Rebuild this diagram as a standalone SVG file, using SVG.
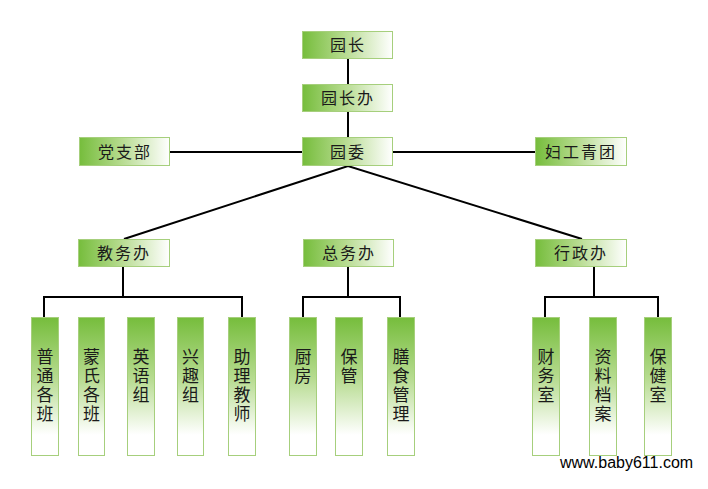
<svg xmlns="http://www.w3.org/2000/svg" width="708" height="489" viewBox="0 0 708 489">
<defs>
<linearGradient id="gh" x1="0" y1="0" x2="1" y2="0">
<stop offset="0" stop-color="#76bd3c"/>
<stop offset="0.45" stop-color="#b4da8c"/>
<stop offset="1" stop-color="#ffffff"/>
</linearGradient>
<linearGradient id="gv" x1="0" y1="0" x2="0" y2="1">
<stop offset="0" stop-color="#76bd3c"/>
<stop offset="0.45" stop-color="#b8dc92"/>
<stop offset="0.85" stop-color="#ffffff"/>
<stop offset="1" stop-color="#ffffff"/>
</linearGradient>
<style>
.h{fill:url(#gh);stroke:#a6cf7c;stroke-width:1}
.v{fill:url(#gv);stroke:#a6cf7c;stroke-width:1}
.t{font-family:"Noto Sans CJK SC","Noto Sans",sans-serif;font-size:16px;fill:#1a1a1a;text-anchor:middle;letter-spacing:2px}
.c{font-family:"Noto Sans CJK SC","Noto Sans",sans-serif;font-size:17px;fill:#1a1a1a;writing-mode:vertical-rl;text-orientation:upright;letter-spacing:2px}
.l{stroke:#000;stroke-width:2;fill:none}
</style>
</defs>
<rect width="708" height="489" fill="#fff"/>
<g id="connectors">
<line class="l" x1="348" y1="58" x2="348" y2="84"/>
<line class="l" x1="348" y1="111" x2="348" y2="137"/>
<line class="l" x1="170" y1="152" x2="302" y2="152"/>
<line class="l" x1="393" y1="152" x2="535" y2="152"/>
<polyline class="l" points="124,239 348,166 582,239"/>
<polyline class="l" points="123,266 123,297"/>
<polyline class="l" points="44,317 44,297 242,297 242,317"/>
<line class="l" x1="348" y1="266" x2="348" y2="297"/>
<polyline class="l" points="303,317 303,297 400,297 400,317"/>
<line class="l" x1="594" y1="266" x2="594" y2="297"/>
<polyline class="l" points="545,317 545,297 658,297 658,317"/>
</g>
<g id="n-yuanzhang"><rect class="h" x="302.5" y="31.5" width="90" height="27"/><text class="t" x="348" y="51">园长</text></g>
<g id="n-yuanzhangban"><rect class="h" x="302.5" y="84.5" width="90" height="27"/><text class="t" x="348" y="104">园长办</text></g>
<g id="n-yuanwei"><rect class="h" x="302.5" y="137.5" width="90" height="28"/><text class="t" x="348" y="158">园委</text></g>
<g id="n-dangzhibu"><rect class="h" x="79.5" y="137.5" width="90" height="28"/><text class="t" x="125" y="158">党支部</text></g>
<g id="n-fugong"><rect class="h" x="535.5" y="137.5" width="91" height="28"/><text class="t" x="581" y="158">妇工青团</text></g>
<g id="n-jiaowuban"><rect class="h" x="78.5" y="239.5" width="91" height="27"/><text class="t" x="124" y="259">教务办</text></g>
<g id="n-zongwuban"><rect class="h" x="303.5" y="239.5" width="90" height="27"/><text class="t" x="349" y="259">总务办</text></g>
<g id="n-xingzhengban"><rect class="h" x="535.5" y="239.5" width="91" height="27"/><text class="t" x="581" y="259">行政办</text></g>
<g id="n-putong"><rect class="v" x="31.5" y="317.5" width="27" height="138"/><text class="c" x="45" y="348">普通各班</text></g>
<g id="n-mengshi"><rect class="v" x="78.5" y="317.5" width="26" height="138"/><text class="c" x="91.5" y="348">蒙氏各班</text></g>
<g id="n-yingyu"><rect class="v" x="127.5" y="317.5" width="27" height="138"/><text class="c" x="141" y="348">英语组</text></g>
<g id="n-xingqu"><rect class="v" x="177.5" y="317.5" width="26" height="138"/><text class="c" x="190.5" y="348">兴趣组</text></g>
<g id="n-zhuli"><rect class="v" x="228.5" y="317.5" width="27" height="138"/><text class="c" x="242" y="348">助理教师</text></g>
<g id="n-chufang"><rect class="v" x="289.5" y="317.5" width="27" height="138"/><text class="c" x="303" y="348">厨房</text></g>
<g id="n-baoguan"><rect class="v" x="335.5" y="317.5" width="27" height="138"/><text class="c" x="349" y="348">保管</text></g>
<g id="n-shanshi"><rect class="v" x="387.5" y="317.5" width="27" height="138"/><text class="c" x="401" y="348">膳食管理</text></g>
<g id="n-caiwu"><rect class="v" x="532.5" y="317.5" width="27" height="138"/><text class="c" x="546" y="348">财务室</text></g>
<g id="n-ziliao"><rect class="v" x="589.5" y="317.5" width="27" height="138"/><text class="c" x="603" y="348">资料档案</text></g>
<g id="n-baojian"><rect class="v" x="644.5" y="317.5" width="27" height="138"/><text class="c" x="658" y="348">保健室</text></g>
<text x="560" y="468" font-family="'Liberation Sans',Arial,sans-serif" font-size="16" fill="#000">www.baby611.com</text>
</svg>
